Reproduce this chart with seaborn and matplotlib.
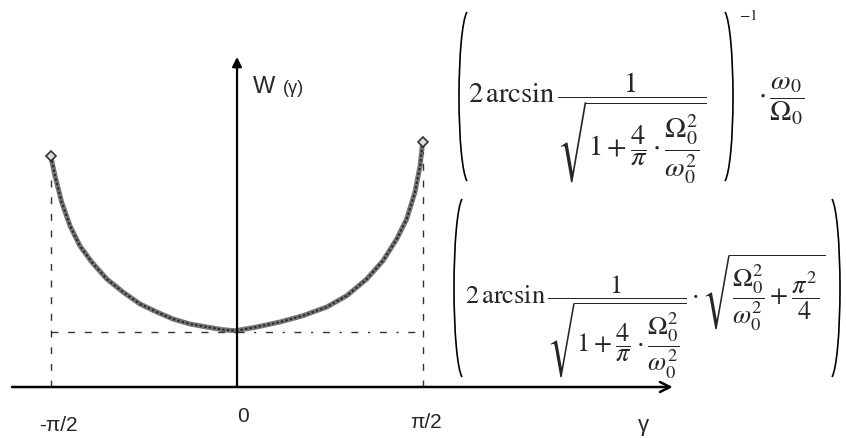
import numpy as np
import matplotlib
matplotlib.use("Agg")
import matplotlib.pyplot as plt
from matplotlib.patches import Arc
import seaborn as sns

# ── data (gamma in rad, W in arbitrary units) ───────────────────────────
gamma = [-1.573, -1.537, -1.481, -1.410, -1.326, -1.227, -1.100, -0.963,
         -0.819, -0.678, -0.541, -0.397, -0.256, -0.118, -0.017, 0.0,
         0.166, 0.363, 0.557, 0.758, 0.927, 1.096, 1.233, 1.349, 1.433,
         1.503, 1.546, 1.568]
W = [2.31, 2.11, 1.85, 1.61, 1.41, 1.25, 1.08, 0.95,
     0.83, 0.75, 0.68, 0.63, 0.60, 0.573, 0.563, 0.565,
     0.60, 0.65, 0.713, 0.80, 0.913, 1.08, 1.263, 1.48, 1.68,
     1.95, 2.21, 2.45]
w_min = 0.55
left_top, right_top = 2.11, 2.35
tick_pos = [-np.pi / 2, 0, np.pi / 2]
tick_lbl = ["-π/2", "0", "π/2"]
tick_dx = [0.06, 0.05, 0.025]
tick_y = [-0.38, -0.29, -0.35]

sns.set_style("white")
plt.rcParams["font.family"] = ["Liberation Sans", "DejaVu Sans"]
plt.rcParams["mathtext.fontset"] = "stix"

fig = plt.figure(figsize=(8.46, 4.39), dpi=100)
ax = fig.add_axes([0, 0, 1, 1])
ax.set_xlim(-2.0016, 5.143)
ax.set_ylim(-0.51, 3.88)
ax.axis("off")

# curve: chain of small diamonds in the scan
sns.lineplot(x=gamma, y=W, ax=ax, color="#777777", lw=3.6, sort=False)
ax.plot(gamma, W, color="#2a2a2a", lw=1.5, ls=(0, (1.2, 1.0)))
ax.plot([gamma[0], gamma[-1]], [W[0], W[-1]], ls="none", marker="D", ms=5,
        mfc="#dddddd", mec="#333333", mew=1.2)

# guide lines
ax.plot([-np.pi / 2, 0], [w_min, w_min], color="#333", lw=1, ls=(0, (5, 7)))
ax.plot([0, np.pi / 2], [w_min, w_min], color="#333", lw=1, ls=(0, (5, 7, 1.5, 7)))
ax.plot([-np.pi / 2] * 2, [0, left_top], color="#333", lw=1, ls=(0, (5, 7)))
ax.plot([np.pi / 2] * 2, [0, right_top], color="#333", lw=1, ls=(0, (5, 7)))

# axes with arrows
ax.annotate("", xy=(3.68, 0), xytext=(-1.90, 0),
            arrowprops=dict(arrowstyle="->", lw=1.8, color="black",
                            mutation_scale=18, shrinkA=0, shrinkB=0))
ax.annotate("", xy=(0, 3.30), xytext=(0, 0),
            arrowprops=dict(arrowstyle="-|>", lw=1.6, color="black",
                            mutation_scale=14, shrinkA=0, shrinkB=0))

for p, t, dx, yy in zip(tick_pos, tick_lbl, tick_dx, tick_y):
    ax.text(p + dx, yy, t, ha="center", va="center", fontsize=15)
ax.text(3.43, -0.38, "γ", ha="center", va="center", fontsize=16)
ax.text(0.13, 3.01, "W", ha="left", va="center", fontsize=17)
ax.text(0.385, 2.99, "(γ)", ha="left", va="center", fontsize=13)

# ── formulas, placed on a pixel overlay ─────────────────────────────
pax = fig.add_axes([0, 0, 1, 1])
pax.set_xlim(0, 846)
pax.set_ylim(439, 0)
pax.axis("off")
pax.patch.set_alpha(0)


def paren(x_out, y_top, y_bot, side, bulge=8, t=80):
    tr = np.radians(t)
    h = y_bot - y_top
    b = h / (2 * np.sin(tr))
    a = bulge / (1 - np.cos(tr))
    # Arc takes the geometric angle of the end point, not the parametric one
    g = np.degrees(np.arctan2(b * np.sin(tr), a * np.cos(tr)))
    if side == "left":
        cx, th1, th2 = x_out + a, 180 - g, 180 + g
    else:
        cx, th1, th2 = x_out - a, -g, g
    pax.add_patch(Arc((cx, (y_top + y_bot) / 2), 2 * a, 2 * b,
                      theta1=th1, theta2=th2, lw=1.2, color="black"))


f1 = (r"$2\,\arcsin\dfrac{1}{\sqrt{1+\dfrac{4}{\pi}\cdot"
      r"\dfrac{\Omega_0^2}{\omega_0^2}}}$")
f1b = r"$\cdot\,\dfrac{\omega_0}{\Omega_0}$"
f2 = (r"$2\,\arcsin\dfrac{1}{\sqrt{1+\dfrac{4}{\pi}\cdot"
      r"\dfrac{\Omega_0^2}{\omega_0^2}}}\cdot"
      r"\sqrt{\dfrac{\Omega_0^2}{\omega_0^2}+\dfrac{\pi^2}{4}}$")

pax.text(468, 104, f1, ha="left", va="baseline", fontsize=20.5)
paren(459, 13, 182, "left")
paren(733, 13, 182, "right")
pax.text(748, 16, r"$-1$", ha="center", va="center", fontsize=11)
pax.text(758, 104, f1b, ha="left", va="baseline", fontsize=20.5)

pax.text(465, 303, f2, ha="left", va="baseline", fontsize=19)
paren(454, 200, 378, "left")
paren(840, 200, 378, "right")

fig.savefig("out.png", dpi=100, facecolor="white")
